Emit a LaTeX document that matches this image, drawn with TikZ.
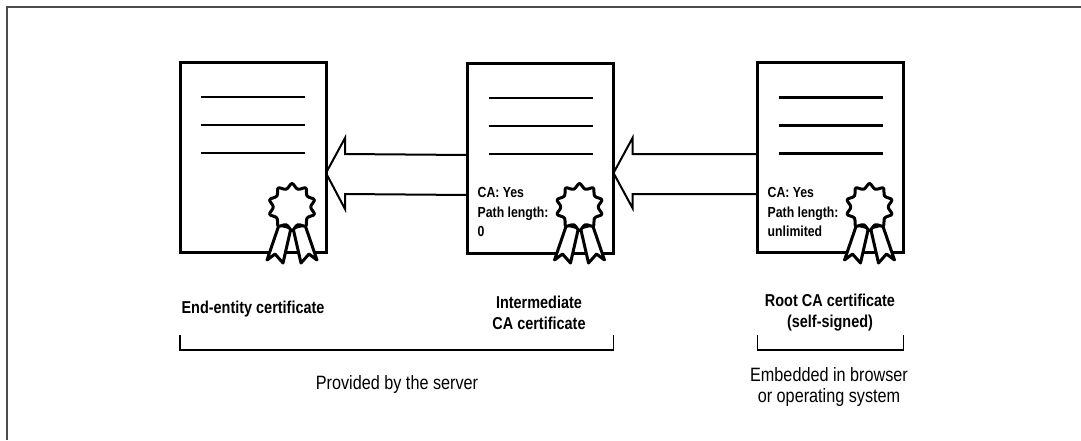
\documentclass[tikz,border=0pt]{standalone}
\usepackage{fontspec}
\setmainfont{Liberation Sans}[FakeStretch=0.84]
\usetikzlibrary{calc}
\tikzset{
  doc/.style={draw=black, line width=3pt, fill=white, minimum width=146pt, minimum height=190pt, inner sep=0pt, outer sep=0pt},
  docline/.style={line width=2.4pt},
  arrowline/.style={line width=2pt, line join=miter},
  sealline/.style={draw=black, fill=white, line width=3pt, line join=round},
  bracket/.style={line width=1.6pt},
  frame/.style={draw=black!70, line width=2pt},
  catext/.style={font=\bfseries\fontsize{14.6}{19.5}\selectfont, align=left, anchor=west, inner sep=0pt},
  label/.style={font=\bfseries\fontsize{17.2}{21}\selectfont, align=center, inner sep=0pt},
  note/.style={font=\fontsize{19.3}{21.5}\selectfont, align=center, inner sep=0pt},
  seal/.pic={
    \draw[sealline] (-13,18) -- (-25,53) -- (-17,47) -- (-9,56) -- (-1,21) -- cycle;
    \draw[sealline] (13,18) -- (25,53) -- (17,47) -- (9,56) -- (1,21) -- cycle;
    \draw[sealline, rounded corners=2.2pt] (90:24.5)
      \foreach \k in {1,...,19}{ -- ({90+18*\k}:{ifthenelse(mod(\k,2)==1,18,24.5)}) } -- cycle;
  }
}
\begin{document}
\begin{tikzpicture}[x=1pt, y=-1pt]
\useasboundingbox (0,0) rectangle (1081,440);
\draw[frame] (6.5,440) -- (6.5,6.5) -- (1081,6.5);

% documents
\node[doc] (ee) at (253,157) {};
\node[doc] (int) at (540.5,158) {};
\node[doc] (root) at (830.5,157.5) {};

\foreach \d in {ee,int,root}{
  \foreach \dy in {35,63,91}{
    \draw[docline] ($(\d.north west)+(21,\dy)$) -- ($(\d.north east)+(-21,\dy)$);
  }
}

% hollow arrows
\draw[arrowline] ($(int.west)+(0,-3)$) -- ($(ee.east)+(19,-3)$) -- ($(ee.east)+(19,-19)$)
  -- ($(ee.east)+(0,16)$) -- ($(ee.east)+(19,52)$) -- ($(ee.east)+(19,37)$) -- ($(int.west)+(0,37)$);
\draw[arrowline] ($(root.west)+(0,-3.5)$) -- ($(int.east)+(19,-4)$) -- ($(int.east)+(19,-20)$)
  -- ($(int.east)+(0,15)$) -- ($(int.east)+(19,50)$) -- ($(int.east)+(19,36)$) -- ($(root.west)+(0,36.5)$);

% CA texts
\node[catext] (intca) at ($(int.west)+(10,54)$) {CA: Yes\\Path length:\\0};
\node[catext] (rootca) at ($(root.west)+(10,54.5)$) {CA: Yes\\Path length:\\unlimited};

% seals
\pic at ($(ee.east)+(-34,50)$) {seal};
\pic at ($(int.east)+(-34,49)$) {seal};
\pic at ($(root.east)+(-34,49.5)$) {seal};

% labels
\node[label] (eel) at (253,309) {End-entity certificate};
\node[label] (intl) at (539,312.5) {Intermediate\\CA certificate};
\node[label] (rootl) at (830,312.5) {Root CA certificate\\(self-signed)};

% brackets
\coordinate (bl) at (0,350);
\coordinate (bt) at (0,335);
\draw[bracket] (ee.west |- bt) -- (ee.west |- bl) -- (int.east |- bl) -- (int.east |- bt);
\draw[bracket] (root.west |- bt) -- (root.west |- bl) -- (root.east |- bl) -- (root.east |- bt);

\node[note] (prov) at (397,385) {Provided by the server};
\node[note] (emb) at (829,387) {Embedded in browser\\or operating system};
\end{tikzpicture}
\end{document}
